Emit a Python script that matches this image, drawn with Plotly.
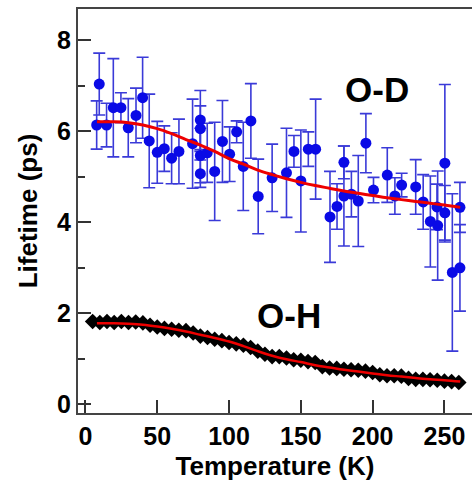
import plotly.graph_objects as go

# O-D data (blue circles with error bars)
od_temp = [7.8, 9.6, 14.7, 19.4, 24.7, 29.8, 35.2, 39.8, 44.4, 50.0, 54.9, 60.0, 65.1, 74.6,
           80.0, 80.0, 80.0, 80.0, 84.8, 90.0, 95.4, 100.4, 105.3, 109.9, 115.2, 120.3, 130.0,
           140.0, 145.2, 150.0, 155.2, 160.3, 170.3, 175.2, 180.0, 180.0, 185.2, 190.0, 195.3,
           200.6, 210.2, 215.5, 220.2, 230.0, 235.2, 240.2, 245.3, 244.8, 250.3, 250.3, 255.5,
           260.8, 260.8]
od_life = [6.14, 7.04, 6.14, 6.52, 6.52, 6.08, 6.35, 6.74, 5.79, 5.54, 5.62, 5.41, 5.56, 5.73,
           6.25, 6.06, 5.47, 5.07, 5.53, 5.12, 5.78, 5.50, 5.99, 5.23, 6.23, 4.57, 4.98,
           5.09, 5.56, 4.91, 5.61, 5.61, 4.12, 4.35, 5.32, 4.58, 4.62, 4.47, 5.74,
           4.71, 5.04, 4.58, 4.82, 4.78, 4.45, 4.02, 3.93, 4.34, 5.30, 4.21, 2.90,
           3.00, 4.33]
od_err = [0.53, 0.68, 0.48, 1.08, 0.33, 0.64, 0.60, 0.89, 1.03, 0.68, 0.50, 0.56, 0.71, 0.98,
          0.65, 0.50, 0.60, 0.30, 0.65, 1.08, 0.90, 0.60, 0.24, 0.97, 0.82, 0.82, 0.74,
          0.98, 0.35, 1.12, 0.38, 1.10, 1.00, 0.50, 0.36, 1.10, 0.50, 1.00, 0.65,
          0.28, 0.60, 0.40, 0.26, 0.60, 0.60, 1.00, 1.20, 0.50, 1.73, 0.60, 1.73,
          0.95, 0.55]

# O-D fit (red curve)
od_fit_temp = [8, 20, 30, 40, 50, 60, 70, 80, 90, 100, 110, 120, 130, 140, 150, 160, 170, 180,
               190, 200, 210, 220, 230, 240, 250, 261]
od_fit_life = [6.21, 6.21, 6.19, 6.14, 6.06, 5.95, 5.82, 5.70, 5.56, 5.40, 5.28, 5.15, 5.05,
               4.96, 4.88, 4.81, 4.75, 4.69, 4.64, 4.59, 4.54, 4.50, 4.46, 4.42, 4.38, 4.33]

# O-H data (black diamonds)
oh_temp = [5, 10, 15, 20, 25, 30, 35, 40, 45, 50, 55, 60, 65, 70, 75, 80, 85, 90, 95, 100,
           105, 110, 115, 120, 125, 130, 135, 140, 145, 150, 155, 160, 165, 170, 175, 180,
           185, 190, 195, 200, 205, 210, 215, 220, 225, 230, 235, 240, 245, 250, 255, 260]
oh_life = [1.82, 1.80, 1.82, 1.80, 1.82, 1.80, 1.81, 1.79, 1.74, 1.70, 1.67, 1.65, 1.63, 1.62,
           1.57, 1.50, 1.47, 1.43, 1.40, 1.36, 1.33, 1.30, 1.25, 1.17, 1.10, 1.05, 1.05, 1.02,
           0.98, 0.97, 0.94, 0.92, 0.83, 0.80, 0.79, 0.77, 0.76, 0.75, 0.73, 0.70, 0.65, 0.63,
           0.63, 0.62, 0.57, 0.55, 0.55, 0.54, 0.53, 0.51, 0.50, 0.48]

# O-H fit (red curve)
oh_fit_temp = [8, 20, 30, 40, 50, 60, 70, 80, 90, 100, 110, 120, 130, 140, 150, 160, 170, 180,
               190, 200, 210, 220, 230, 240, 250, 261]
oh_fit_life = [1.78, 1.78, 1.77, 1.75, 1.71, 1.66, 1.60, 1.53, 1.46, 1.38, 1.28, 1.17, 1.07,
               0.99, 0.93, 0.86, 0.81, 0.76, 0.72, 0.68, 0.64, 0.61, 0.58, 0.55, 0.53, 0.50]

x_ticks = [0, 50, 100, 150, 200, 250]
y_ticks = [0, 2, 4, 6, 8]

FONT = "Liberation Sans, Arial, sans-serif"

fig = go.Figure()
fig.add_trace(go.Scatter(
    x=od_temp, y=od_life, mode="markers",
    marker=dict(color="#0a0ae6", size=11, symbol="circle"),
    error_y=dict(type="data", array=od_err, color="#3a3ad8", thickness=1.6, width=6),
    showlegend=False))
fig.add_trace(go.Scatter(
    x=oh_temp, y=oh_life, mode="markers",
    marker=dict(color="black", size=12, symbol="diamond"),
    showlegend=False))
fig.add_trace(go.Scatter(
    x=od_fit_temp, y=od_fit_life, mode="lines", line=dict(color="#ee0000", width=3, shape="spline"),
    showlegend=False))
fig.add_trace(go.Scatter(
    x=oh_fit_temp, y=oh_fit_life, mode="lines", line=dict(color="#ee0000", width=2.5, shape="spline"),
    showlegend=False))

fig.add_annotation(x=203, y=6.93, text="O-D", showarrow=False,
                   font=dict(family=FONT, size=35, color="black", weight="bold"))
fig.add_annotation(x=141.5, y=1.95, text="O-H", showarrow=False,
                   font=dict(family=FONT, size=35, color="black", weight="bold"))

fig.update_layout(
    width=472, height=484,
    margin=dict(l=78, r=0, t=9, b=71),
    paper_bgcolor="white", plot_bgcolor="white",
    font=dict(family=FONT, color="black"),
    xaxis=dict(range=[-5.2, 269.2], tickvals=x_ticks, ticks="inside", ticklen=13, tickwidth=2,
               tickcolor="#333", showline=True, linecolor="#444", linewidth=2, mirror=True,
               showgrid=False, zeroline=False,
               tickfont=dict(family=FONT, size=25, color="black", weight="bold"),
               title=dict(text="Temperature (K)", standoff=8,
                          font=dict(family=FONT, size=26, color="black", weight="bold"))),
    yaxis=dict(range=[-0.19, 8.69], tickvals=y_ticks, ticks="inside", ticklen=13, tickwidth=2,
               tickcolor="#333", showline=True, linecolor="#444", linewidth=2,
               showgrid=False, zeroline=False,
               minor=dict(tickvals=[1, 3, 5, 7], ticks="inside", ticklen=7, tickwidth=2, tickcolor="#333"),
               tickfont=dict(family=FONT, size=25, color="black", weight="bold"),
               title=dict(text="Lifetime (ps)", standoff=12,
                          font=dict(family=FONT, size=26, color="black", weight="bold"))),
)

fig.write_html("out.html", config={"displayModeBar": False},
               post_script="document.body.style.margin='0';document.body.style.overflow='hidden';")
